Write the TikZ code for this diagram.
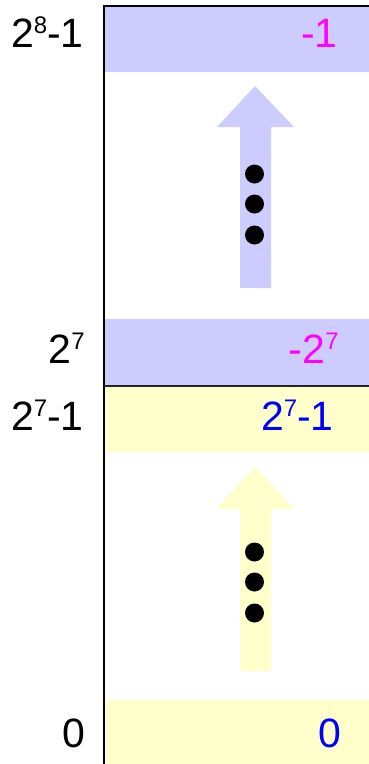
\documentclass[tikz,border=0pt]{standalone}
\usepackage{fontspec}
\setmainfont{Liberation Sans}
\usepackage{tikz}
\usetikzlibrary{positioning}
\newcommand{\supnum}[1]{\raisebox{14pt}{\fontsize{24}{24}\selectfont #1}}
\definecolor{bandblue}{RGB}{204,204,255}
\definecolor{bandyellow}{RGB}{255,255,204}
\definecolor{valmagenta}{RGB}{255,0,255}
\definecolor{valblue}{RGB}{0,0,255}

\begin{document}
\begin{tikzpicture}[
  x=1pt, y=-1pt,
  lbl/.style={anchor=base east, inner sep=0pt, font=\fontsize{41}{48}\selectfont},
  val/.style={anchor=base east, inner sep=0pt, font=\fontsize{41}{48}\selectfont},
  rule/.style={line width=1.3pt, black},
  dotfill/.style={fill=black}
]
  \useasboundingbox (0,0) rectangle (369,764);

  % --- Bands ---
  \fill[bandblue]   (105,7)   rectangle (369,72);
  \fill[bandblue]   (105,319) rectangle (369,385);
  \fill[bandyellow] (105,387) rectangle (369,452);
  \fill[bandyellow] (106,700) rectangle (369,764);

  % --- Axis lines ---
  \draw[rule] (104,764) -- (104,6) -- (369,6);
  \draw[rule, line width=1.8pt, black!85] (104,386) -- (369,386);

  % --- Arrows ---
  \fill[bandblue] (240,288) -- (240,127) -- (217,127) -- (255,86)
    -- (294,127) -- (271,127) -- (271,288) -- cycle;
  \fill[bandyellow] (240,671) -- (240,509) -- (216,509) -- (255,467)
    -- (294,509) -- (271,509) -- (271,671) -- cycle;

  % --- Dots ---
  \foreach \y in {174,204,235,552,582,613}
    \fill[dotfill] (254.5,\y) circle (9.5);

  % --- Left labels ---
  \node[lbl] (u255) at (84,47)  {2\supnum{8}-1};
  \node[lbl] (u128) at (85,363) {2\supnum{7}};
  \node[lbl] (u127) at (84,430) {2\supnum{7}-1};
  \node[lbl] (u0)   at (86,747) {0};

  % --- Right labels ---
  \node[val, text=valmagenta] (s255) at (338,47)  {-1};
  \node[val, text=valmagenta] (s128) at (339,363) {-2\supnum{7}};
  \node[val, text=valblue]    (s127) at (334,430) {2\supnum{7}-1};
  \node[val, text=valblue]    (s0)   at (341,747) {0};
\end{tikzpicture}
\end{document}
